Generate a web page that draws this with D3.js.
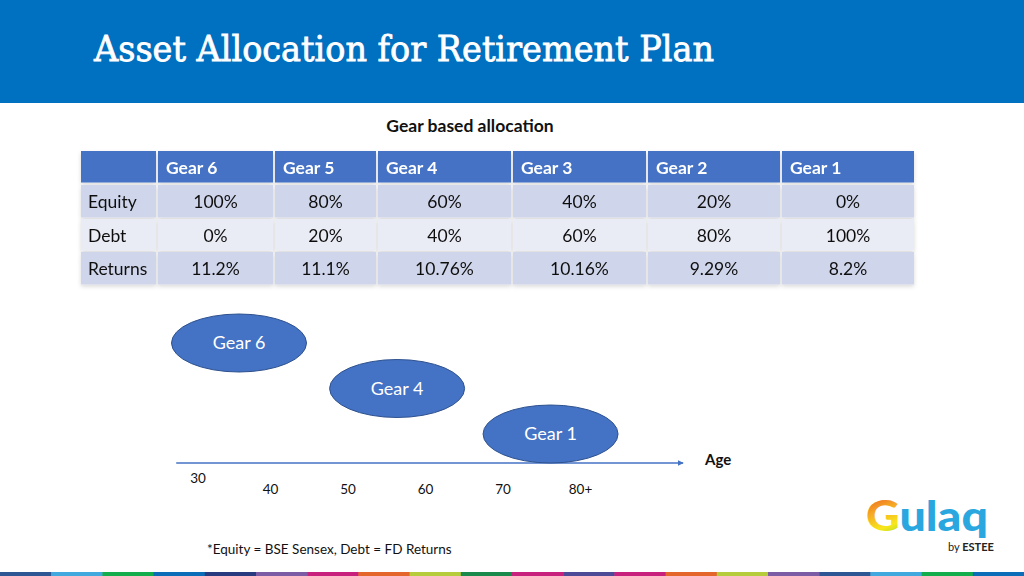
<!DOCTYPE html>
<html>
<head>
<meta charset="utf-8">
<script src="https://cdn.jsdelivr.net/npm/d3@7"></script>
<style>
  html, body { margin: 0; padding: 0; background: #fff; }
  svg { display: block; }
</style>
</head>
<body>
<svg id="chart" width="1024" height="576"></svg>
<script>
// ---------------- data ----------------
const title = "Asset Allocation for Retirement Plan";
const tableTitle = "Gear based allocation";
const gears = ["Gear 6", "Gear 5", "Gear 4", "Gear 3", "Gear 2", "Gear 1"];
const rowLabels = ["Equity", "Debt", "Returns"];
const equityPct = [100, 80, 60, 40, 20, 0];
const debtPct = [0, 20, 40, 60, 80, 100];
const returnsPct = ["11.2", "11.1", "10.76", "10.16", "9.29", "8.2"];

const bubbleGears = ["Gear 6", "Gear 4", "Gear 1"];
const bubbleAges = [36, 56.4, 76.2];
const ageTicks = [30, 40, 50, 60, 70, 80];
const ageTickLabels = ["30", "40", "50", "60", "70", "80+"];
const axisLabel = "Age";
const footnote = "*Equity = BSE Sensex, Debt = FD Returns";

const stripColors = ["#2D5694","#41A9DD","#13AE4B","#0B6DB7","#283B7E","#7C5CA5","#C8207D","#E4662A",
  "#B7CC3A","#198A4C","#C8207D","#4D4B98","#C8207D","#E4662A","#B7CC3A","#7C5CA5","#2D5694","#41A9DD","#13AE4B","#0B6DB7"];

// ---------------- layout ----------------
const W = 1024, H = 576;
const font = "Lato, 'Open Sans', sans-serif";
const blue = "#4472C4";
const svg = d3.select("#chart");

// header band
svg.append("rect").attr("x", 0).attr("y", 0).attr("width", W).attr("height", 103).attr("fill", "#0070C0");
svg.append("text").text(title)
  .attr("x", 94).attr("y", 61)
  .attr("font-family", "'DejaVu Serif', 'Liberation Serif', serif")
  .attr("font-size", 36).attr("font-weight", 400)
  .attr("fill", "#fff").attr("stroke", "#fff").attr("stroke-width", 0.8)
  .attr("textLength", 620).attr("lengthAdjust", "spacingAndGlyphs");

svg.append("text").text(tableTitle)
  .attr("x", 470).attr("y", 132).attr("text-anchor", "middle")
  .attr("font-family", font).attr("font-size", 17.5).attr("font-weight", 700).attr("fill", "#111");

// ---------------- table ----------------
const colEdges = [81, 157, 274, 377, 512, 647, 781, 915];
const rowEdges = [151, 184, 218, 251, 285];
const rowFills = ["#CFD5EA", "#E9EBF5", "#CFD5EA"];
const tableRows = [
  equityPct.map(v => v + "%"),
  debtPct.map(v => v + "%"),
  returnsPct.map(v => v + "%")
];

const defs = svg.append("defs");
const f = defs.append("filter").attr("id", "shadow").attr("x", "-5%").attr("y", "-10%").attr("width", "110%").attr("height", "130%");
f.append("feDropShadow").attr("dx", 0).attr("dy", 2).attr("stdDeviation", 2).attr("flood-color", "#000").attr("flood-opacity", 0.15);

const tFont = 17.5;
const tg = svg.append("g").attr("filter", "url(#shadow)");
// header row
for (let c = 0; c < colEdges.length - 1; c++) {
  tg.append("rect")
    .attr("x", colEdges[c] + (c ? 1 : 0)).attr("y", rowEdges[0])
    .attr("width", colEdges[c + 1] - colEdges[c] - (c ? 1 : 0) - 1)
    .attr("height", rowEdges[1] - rowEdges[0] - 1.5)
    .attr("fill", blue);
}
gears.forEach((g, i) => {
  tg.append("text").text(g)
    .attr("x", colEdges[i + 1] + 9).attr("y", (rowEdges[0] + rowEdges[1]) / 2 + 0.5)
    .attr("dy", "0.36em")
    .attr("font-family", font).attr("font-size", tFont).attr("font-weight", 700).attr("fill", "#fff");
});
// body rows
rowLabels.forEach((lab, r) => {
  const y0 = rowEdges[r + 1], y1 = rowEdges[r + 2];
  for (let c = 0; c < colEdges.length - 1; c++) {
    tg.append("rect")
      .attr("x", colEdges[c] + (c ? 1 : 0)).attr("y", y0 + 1)
      .attr("width", colEdges[c + 1] - colEdges[c] - (c ? 1 : 0) - 1)
      .attr("height", y1 - y0 - 1.5)
      .attr("fill", rowFills[r]);
  }
  const cy = (y0 + y1) / 2 + 1;
  tg.append("text").text(lab)
    .attr("x", 88).attr("y", cy).attr("dy", "0.36em")
    .attr("font-family", font).attr("font-size", tFont).attr("fill", "#111");
  tableRows[r].forEach((v, i) => {
    tg.append("text").text(v)
      .attr("x", (colEdges[i + 1] + colEdges[i + 2]) / 2).attr("y", cy).attr("dy", "0.36em")
      .attr("text-anchor", "middle")
      .attr("font-family", font).attr("font-size", tFont).attr("fill", "#111");
  });
});

// ---------------- age axis & bubbles ----------------
const x = d3.scaleLinear().domain([40, 80]).range([270, 580]);
const levels = d3.scalePoint().domain(bubbleGears).range([343, 434]);
const axisY = 463;

const mk = defs.append("marker").attr("id", "arrow").attr("viewBox", "0 0 10 10")
  .attr("refX", 9).attr("refY", 5).attr("markerWidth", 6).attr("markerHeight", 6)
  .attr("markerUnits", "userSpaceOnUse").attr("orient", "auto");
mk.append("path").attr("d", "M0,0 L10,5 L0,10 z").attr("fill", blue);

svg.append("line")
  .attr("x1", x(27.9)).attr("x2", x(93.3))
  .attr("y1", axisY).attr("y2", axisY)
  .attr("stroke", blue).attr("stroke-width", 1.5)
  .attr("marker-end", "url(#arrow)");

svg.append("text").text(axisLabel)
  .attr("x", 705).attr("y", 460).attr("dy", "0.36em")
  .attr("font-family", font).attr("font-size", 15).attr("font-weight", 700).attr("fill", "#111");

const axis = d3.axisBottom(x).tickValues(ageTicks)
  .tickFormat((d, i) => ageTickLabels[i]).tickSize(0).tickPadding(0);
const ag = svg.append("g").attr("transform", `translate(0,${axisY + 21})`).call(axis);
ag.select(".domain").remove();
ag.selectAll("text").attr("font-family", font).attr("font-size", 13.5).attr("fill", "#111");
ag.selectAll(".tick").filter(d => d === 30).select("text").attr("dx", 5).attr("dy", "-0.1em");

const bg = svg.append("g");
bubbleGears.forEach((g, i) => {
  const cx = x(bubbleAges[i]), cy = levels(g);
  bg.append("ellipse").attr("cx", cx).attr("cy", cy).attr("rx", 67.5).attr("ry", 29)
    .attr("fill", blue).attr("stroke", "#2F528F").attr("stroke-width", 1);
  bg.append("text").text(g).attr("x", cx).attr("y", cy).attr("dy", "0.36em")
    .attr("text-anchor", "middle")
    .attr("font-family", font).attr("font-size", 18).attr("fill", "#fff");
});

// footnote
svg.append("text").text(footnote)
  .attr("x", 207).attr("y", 554)
  .attr("font-family", font).attr("font-size", 13.5).attr("fill", "#111");

// ---------------- logo ----------------
const lg = defs.append("linearGradient").attr("id", "rainbow").attr("x1", "0").attr("y1", "0").attr("x2", "1").attr("y2", "1");
[["0", "#E63B2E"], ["0.25", "#F5A623"], ["0.45", "#F8E71C"], ["0.65", "#7ED321"], ["0.8", "#2AA7DF"], ["1", "#8E44AD"]]
  .forEach(([o, c]) => lg.append("stop").attr("offset", o).attr("stop-color", c));
const logo = svg.append("text").attr("x", 866).attr("y", 531)
  .attr("font-family", font).attr("font-size", 42).attr("font-weight", 900)
  .attr("textLength", 122).attr("lengthAdjust", "spacingAndGlyphs");
logo.append("tspan").text("G").attr("fill", "url(#rainbow)");
logo.append("tspan").text("ulaq").attr("fill", "#2AA7DF");
const by = svg.append("text").attr("x", 948).attr("y", 551)
  .attr("font-family", font).attr("font-size", 11).attr("fill", "#222");
by.append("tspan").text("by ");
by.append("tspan").text("ESTEE").attr("font-weight", 700);

// ---------------- bottom strip ----------------
const sx = d3.scaleBand().domain(d3.range(stripColors.length)).range([0, W]);
svg.append("g").selectAll("rect").data(stripColors).join("rect")
  .attr("x", (d, i) => sx(i)).attr("y", 572).attr("width", sx.bandwidth() + 0.5).attr("height", 4)
  .attr("fill", d => d);
</script>
</body>
</html>
